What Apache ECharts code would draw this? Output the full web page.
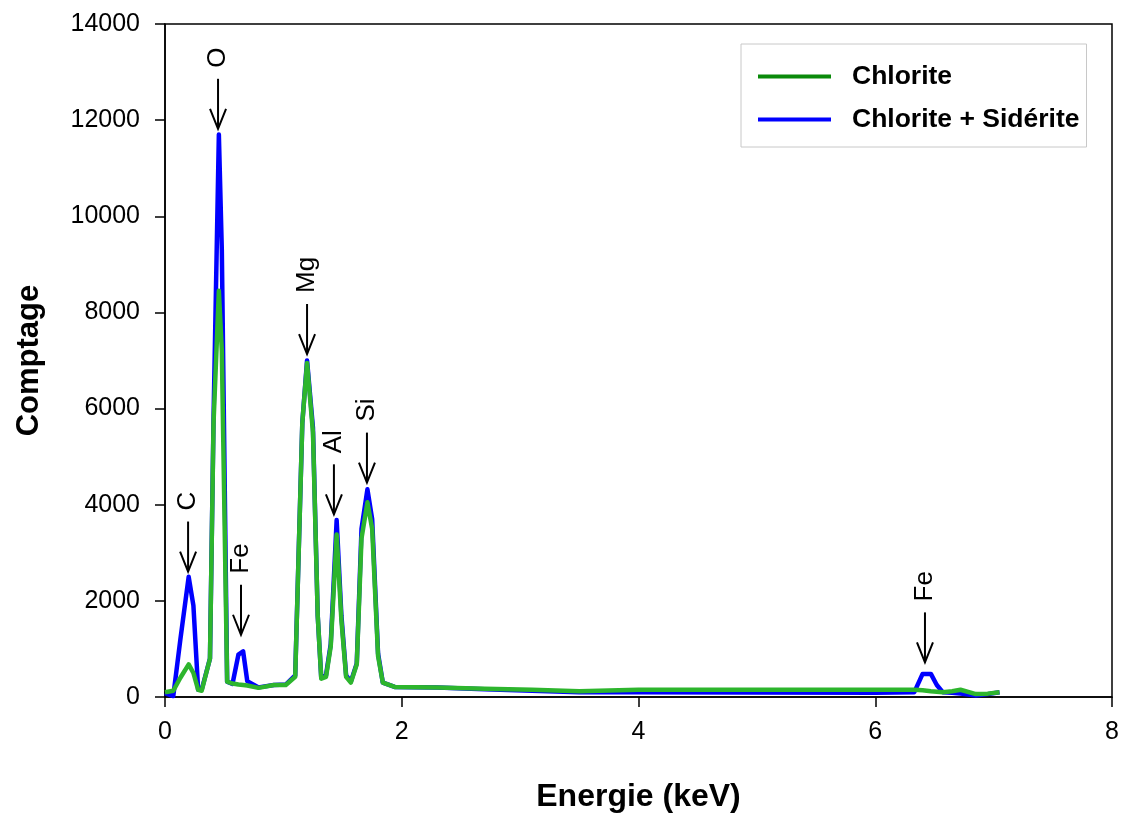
<!DOCTYPE html>
<html>
<head>
<meta charset="utf-8">
<script src="https://cdn.jsdelivr.net/npm/echarts@6/dist/echarts.min.js"></script>
<style>
html,body{margin:0;padding:0;background:#fff;}
#chart{width:1122px;height:818px;}
</style>
</head>
<body>
<div id="chart"></div>
<script>
// Energy (keV) sampling points
const energy = [0, 0.07, 0.13, 0.2, 0.24, 0.28, 0.31, 0.38, 0.41, 0.455, 0.48, 0.525, 0.57, 0.62, 0.66, 0.695, 0.79, 0.92, 1.02, 1.1, 1.16, 1.2, 1.25, 1.29, 1.32, 1.36, 1.4, 1.45, 1.49, 1.53, 1.57, 1.62, 1.66, 1.71, 1.75, 1.8, 1.84, 1.94, 2.3, 2.7, 3.1, 3.5, 4.0, 5.0, 6.0, 6.33, 6.4, 6.47, 6.52, 6.57, 6.65, 6.72, 6.85, 6.95, 7.05];
// Counts: Chlorite + Sidérite
const countsSiderite = [80, 20, 1200, 2500, 1900, 150, 150, 800, 5800, 11700, 9300, 320, 270, 880, 950, 330, 200, 250, 260, 450, 5700, 7000, 5600, 1700, 400, 450, 1100, 3680, 1700, 450, 320, 700, 3500, 4320, 3700, 900, 300, 210, 200, 160, 130, 100, 100, 95, 90, 100, 480, 480, 250, 100, 90, 70, 30, 60, 100];
// Counts: Chlorite
const countsChlorite = [100, 130, 400, 680, 500, 150, 130, 800, 5700, 8450, 7200, 320, 280, 260, 250, 240, 190, 250, 250, 420, 5700, 6950, 5500, 1700, 380, 420, 1050, 3380, 1600, 420, 300, 680, 3300, 4050, 3500, 850, 300, 210, 200, 170, 150, 120, 150, 150, 150, 150, 140, 120, 110, 100, 120, 150, 60, 70, 100];
// Element annotations: label, energy (keV), arrow tip (counts)
const peakLabels = ['C', 'O', 'Fe', 'Mg', 'Al', 'Si', 'Fe'];
const peakEnergy = [0.195, 0.448, 0.642, 1.2, 1.427, 1.706, 6.42];
const peakTip = [2610, 11820, 1295, 7135, 3800, 4460, 720];
const seriesNames = ['Chlorite', 'Chlorite + Sidérite'];

const FONT = 'Liberation Sans, Arial, sans-serif';
const chart = echarts.init(document.getElementById('chart'), null, {renderer: 'canvas'});

const pairs = (vals) => energy.map((e, i) => [e, vals[i]]);

chart.setOption({
  animation: false,
  backgroundColor: '#fff',
  grid: {left: 165, right: 10, top: 24, bottom: 113, show: true, borderColor: '#000', borderWidth: 1.5, containLabel: false},
  legend: {
    left: 741, top: 44, orient: 'vertical',
    data: [
      {name: seriesNames[0], icon: 'rect', itemStyle: {color: '#0a8a0a'}},
      {name: seriesNames[1], icon: 'rect', itemStyle: {color: '#0000ff'}}
    ],
    itemWidth: 73, itemHeight: 4, itemGap: 16,
    padding: [19, 7, 14, 17],
    borderColor: '#c8c8c8', borderWidth: 1,
    textStyle: {fontFamily: FONT, fontWeight: 'bold', fontSize: 26.5, lineHeight: 26, color: '#000', padding: [0, 0, 0, 16]}
  },
  xAxis: {
    type: 'value', min: 0, max: 8, interval: 2,
    name: 'Energie (keV)', nameLocation: 'middle', nameGap: 84,
    nameTextStyle: {fontFamily: FONT, fontWeight: 'bold', fontSize: 32, color: '#000'},
    axisLine: {lineStyle: {color: '#000', width: 1.5}},
    axisTick: {show: true, inside: false, length: 10, lineStyle: {color: '#000', width: 1.5}},
    axisLabel: {fontFamily: FONT, fontSize: 25, color: '#000', margin: 23},
    splitLine: {show: false}
  },
  yAxis: {
    type: 'value', min: 0, max: 14000, interval: 2000,
    name: 'Comptage', nameLocation: 'middle', nameGap: 120,
    nameTextStyle: {fontFamily: FONT, fontWeight: 'bold', fontSize: 31, color: '#000'},
    axisLine: {show: true, lineStyle: {color: '#000', width: 1.5}},
    axisTick: {show: true, inside: false, length: 10, lineStyle: {color: '#000', width: 1.5}},
    axisLabel: {fontFamily: FONT, fontSize: 25, color: '#000', margin: 25, formatter: (v) => String(v)},
    splitLine: {show: false}
  },
  series: [
    {
      name: seriesNames[1], type: 'line', data: pairs(countsSiderite),
      symbol: 'none', z: 2,
      lineStyle: {color: '#0000ff', width: 4.5, join: 'round'},
      itemStyle: {color: '#0000ff'}
    },
    {
      name: seriesNames[0], type: 'line', data: pairs(countsChlorite),
      symbol: 'none', z: 3,
      lineStyle: {color: '#2db52d', width: 4.5, join: 'round'},
      itemStyle: {color: '#2db52d'}
    },
    {
      type: 'custom', z: 5, silent: true,
      data: peakEnergy.map((e, i) => [e, peakTip[i]]),
      renderItem: function (params, api) {
        const p = api.coord([api.value(0), api.value(1)]);
        const x = p[0], y = p[1];
        const len = 50;
        return {
          type: 'group',
          children: [
            {type: 'line', shape: {x1: x, y1: y, x2: x, y2: y - len}, style: {stroke: '#000', lineWidth: 2}},
            {type: 'polyline', shape: {points: [[x - 8, y - 20], [x, y], [x + 8, y - 20]]}, style: {stroke: '#000', fill: null, lineWidth: 2}},
            {type: 'text', x: x, y: y - len - 11, rotation: Math.PI / 2,
              style: {text: peakLabels[params.dataIndex], font: '26px ' + FONT, fill: '#000', align: 'left', verticalAlign: 'middle'}}
          ]
        };
      }
    }
  ]
});
</script>
</body>
</html>
